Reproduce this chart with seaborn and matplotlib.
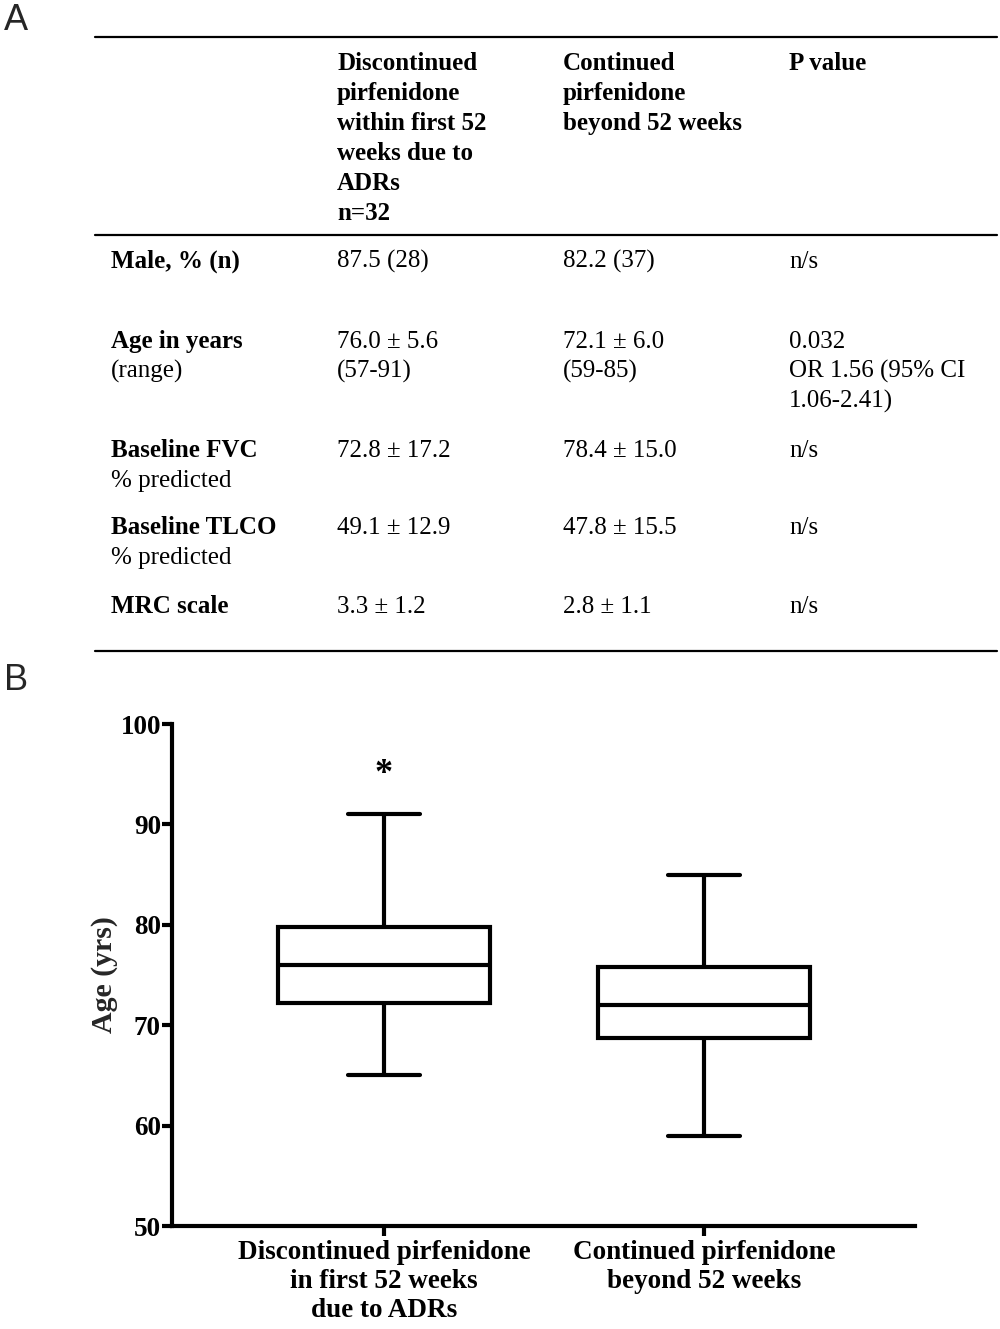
import numpy as np
import pandas as pd
import matplotlib
matplotlib.use("Agg")
import matplotlib.pyplot as plt
import seaborn as sns
from matplotlib.lines import Line2D

sns.set_theme(style="white")
plt.rcParams["font.family"] = ["Liberation Serif", "DejaVu Serif"]

# ---------------- Panel A table content ----------------
col_headers = [
    "",
    "Discontinued\npirfenidone\nwithin first 52\nweeks due to\nADRs\nn=32",
    "Continued\npirfenidone\nbeyond 52 weeks",
    "P value",
]
row_labels_bold = ["Male, % (n)", "Age in years", "Baseline FVC", "Baseline TLCO", "MRC scale"]
row_labels_sub = ["", "(range)", "% predicted", "% predicted", ""]
discontinued_vals = ["87.5 (28)", "76.0 ± 5.6\n(57-91)", "72.8 ± 17.2", "49.1 ± 12.9", "3.3 ± 1.2"]
continued_vals = ["82.2 (37)", "72.1 ± 6.0\n(59-85)", "78.4 ± 15.0", "47.8 ± 15.5", "2.8 ± 1.1"]
p_values = ["n/s", "0.032\nOR 1.56 (95% CI\n1.06-2.41)", "n/s", "n/s", "n/s"]

# ---------------- Panel B box-plot summary ----------------
groups = [
    "Discontinued pirfenidone\nin first 52 weeks\ndue to ADRs",
    "Continued pirfenidone\nbeyond 52 weeks",
]
whisker_low = [65.0, 59.0]
q1 = [72.2, 68.7]
median = [76.0, 72.0]
q3 = [79.8, 75.8]
whisker_high = [91.0, 85.0]
y_ticks = [50, 60, 70, 80, 90, 100]
signif_marks = ["*", ""]

# five-number samples reproduce the summary exactly with whis=(0, 100)
rows = []
for g, lo, a, m, b, hi in zip(groups, whisker_low, q1, median, q3, whisker_high):
    for v in (lo, a, m, b, hi):
        rows.append({"group": g, "age": v})
df = pd.DataFrame(rows)

W, H = 1000, 1329
fig = plt.figure(figsize=(W / 100, H / 100), dpi=100)
fig.patch.set_facecolor("white")

# overlay axes in pixel coordinates for the table
tax = fig.add_axes([0, 0, 1, 1])
tax.set_xlim(0, W)
tax.set_ylim(H, 0)
tax.axis("off")

FS = 18
LS = 30  # line spacing in px
col_x = [111, 337, 563, 789]

def put_lines(x, y0, text, weight="normal"):
    for i, line in enumerate(text.split("\n")):
        tax.text(x, y0 + i * LS, line, fontsize=FS, fontweight=weight,
                 ha="left", va="baseline", color="black")

# rules
for yl in (37, 235, 651):
    tax.add_line(Line2D([95, 997], [yl, yl], color="black", lw=1.6))

# header
for x, h in zip(col_x, col_headers):
    if h:
        put_lines(x, 70, h, weight="bold")

row_baselines = [268, 348, 457, 534, 613]
for yb, lb, ls, dv, cv, pv in zip(row_baselines, row_labels_bold, row_labels_sub,
                                  discontinued_vals, continued_vals, p_values):
    put_lines(col_x[0], yb, lb, weight="bold")
    if ls:
        put_lines(col_x[0], yb + LS, ls)
    put_lines(col_x[1], yb, dv)
    put_lines(col_x[2], yb, cv)
    put_lines(col_x[3], yb, pv)

# panel letters
tax.text(4, 30, "A", fontsize=26, family=["Liberation Sans", "DejaVu Sans"],
         ha="left", va="baseline")
tax.text(4, 690, "B", fontsize=26, family=["Liberation Sans", "DejaVu Sans"],
         ha="left", va="baseline")

# ---------------- box plot ----------------
ax = fig.add_axes([0.172, 1 - 1226 / H, 0.743, (1226 - 724) / H])
ax.set_facecolor("none")
sns.boxplot(data=df, x="group", y="age", order=groups, whis=(0, 100),
            width=0.66, color="white", linecolor="black", linewidth=3,
            fliersize=0, capwidths=0.225, ax=ax)

ax.set_ylim(50, 100)
ax.set_xlim(-0.6625, 1.659)
ax.set_yticks(y_ticks)
ax.set_yticklabels([str(t) for t in y_ticks], fontsize=19.5, fontweight="bold")
ax.set_xticks(range(len(groups)))
ax.set_xticklabels(groups, fontsize=19.5, fontweight="bold", linespacing=1.22)
ax.set_xlabel("")
ax.set_ylabel("Age (yrs)", fontsize=21.5, fontweight="bold")
ax.yaxis.set_label_coords(-0.073, 0.5)

for s in ("top", "right"):
    ax.spines[s].set_visible(False)
for s in ("left", "bottom"):
    ax.spines[s].set_linewidth(3)
    ax.spines[s].set_color("black")
ax.tick_params(axis="both", direction="out", length=7, width=3, color="black",
               labelcolor="black", left=True, bottom=True)
ax.tick_params(axis="y", pad=1)
ax.tick_params(axis="x", pad=3)

for i, mark in enumerate(signif_marks):
    if mark:
        ax.text(i, whisker_high[i] + 4.0, mark, ha="center", va="center",
                fontsize=26, fontweight="bold", color="black")

fig.savefig("out.png", dpi=100, facecolor="white")
